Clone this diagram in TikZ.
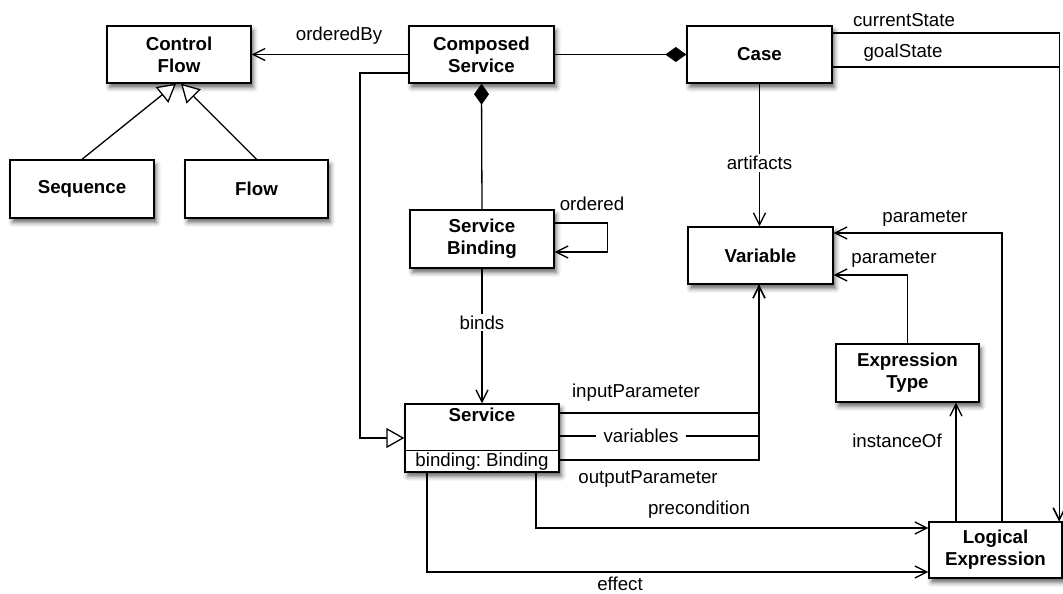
\documentclass[tikz,border=0pt]{standalone}
\usepackage{fontspec}
\setmainfont{Liberation Sans}
\usetikzlibrary{arrows.meta,shadows.blur,calc}
\frenchspacing
\begin{document}
\begin{tikzpicture}[x=1pt,y=-1pt,
  font=\fontsize{18.7}{22}\selectfont,
  cls/.style={draw, line width=1.4pt, fill=white, font=\fontsize{18.7}{22}\selectfont\bfseries, align=center, inner sep=0pt,
    blur shadow={shadow xshift=2.5pt, shadow yshift=-4.5pt, shadow blur radius=4.5pt, shadow opacity=60}},
  conn/.style={line width=1.3pt},
  openarr/.style={conn, -{Straight Barb[length=12pt,width=12pt]}},
  gen/.style={conn, -{Triangle[open,length=18pt,width=20pt,fill=white]}},
  compo/.style={conn, -{Diamond[length=21pt,width=15pt]}},
  lbl/.style={inner sep=1pt},
  lblw/.style={fill=white, inner sep=2pt}
]
\useasboundingbox (0,0) rectangle (1063,594);

% classes
\node[cls, minimum width=144pt, minimum height=57pt] (cf) at (179,54.5) {Control\\Flow};
\node[cls, minimum width=144pt, minimum height=58pt] (seq) at (82,189) {Sequence};
\node[cls, minimum width=143pt, minimum height=58pt] (flow) at (256.5,189) {Flow};
\node[cls, minimum width=145pt, minimum height=57pt] (cs) at (481.5,54.5) {Composed\\Service};
\node[cls, minimum width=145pt, minimum height=57pt] (case) at (759.5,54.5) {Case};
\node[cls, minimum width=144pt, minimum height=58pt] (sb) at (482,239) {Service\\Binding};
\node[cls, minimum width=145pt, minimum height=57pt] (var) at (760.5,255.5) {Variable};
\node[cls, minimum width=143pt, minimum height=58pt] (et) at (907.5,373) {Expression\\Type};
\node[cls, minimum width=133pt, minimum height=56pt] (le) at (995.5,550) {Logical\\Expression};
\node[cls, minimum width=154pt, minimum height=68pt] (svc) at (482,438) {};
\node[font=\fontsize{18.7}{22}\selectfont\bfseries, inner sep=0pt] (svct) at ([yshift=-12pt]svc.north) {Service};
\node[inner sep=0pt] (svcb) at ([yshift=11pt]svc.south) {binding: Binding};
\draw[line width=1.3pt] ([yshift=22pt]svc.south west) -- ([yshift=22pt]svc.south east);

% connectors
\draw[openarr] (cs.west) -- (cf.east);
\node[lbl] (lordered) at (339,36) {orderedBy};
\draw[gen] (seq.north) -- ([xshift=-3pt]cf.south);
\draw[gen] (flow.north) -- ([xshift=2pt]cf.south);
\draw[compo] (cs.east) -- (case.west);
\draw[compo] (sb.north) -- (cs.south);
\draw[gen] ([yshift=-18.5pt]cs.west) -- (360,73) |- (svc.west);

\draw[openarr] ([yshift=16pt]sb.east) -- ++(53,0) |- ([yshift=-13pt]sb.east);
\node[lbl] (lord) at (592,204) {ordered};

\draw[openarr] (sb.south) -- (svc.north) node[lblw, pos=0.40] (lbinds) {binds};
\draw[openarr] (case.south) -- (case.south |- var.north) node[lblw, pos=0.556] (lart) {artifacts};

\draw[openarr] ([yshift=25pt]svc.east) -| ([xshift=-1.5pt]var.south);
\node[lbl] (lin) at (636,393) {inputParameter};
\draw[conn] ([yshift=2pt]svc.east) -| ([xshift=-1.5pt]var.south);
\node[lblw, inner xsep=8pt] (lvar) at (641,436) {variables};
\draw[openarr] ([yshift=-22pt]svc.east) -| ([xshift=-1.5pt]var.south);
\node[lbl] (lout) at (648,479) {outputParameter};

\draw[openarr] ([xshift=54pt]svc.south) |- ([yshift=22pt]le.west);
\node[lbl] (lpre) at (699,510) {precondition};
\draw[openarr] ([xshift=-55pt]svc.south) |- ([yshift=-22pt]le.west);
\node[lbl] (leff) at (620,584) {effect};

\draw[openarr] ([yshift=21.5pt]case.east) -| ([xshift=-3.5pt]le.north east);
\node[lbl] (lcur) at (904,20) {currentState};
\draw[openarr] ([yshift=-12.5pt]case.east) -| ([xshift=-3.5pt]le.north east);
\node[lbl] (lgoal) at (903,53) {goalState};

\draw[openarr] ([xshift=6.5pt]le.north) |- ([yshift=22.5pt]var.east);
\node[lbl] (lpar1) at (925,218) {parameter};
\draw[openarr] (et.north) |- ([yshift=-19.5pt]var.east);
\node[lbl] (lpar2) at (894,259) {parameter};
\draw[openarr] ([xshift=-39.5pt]le.north) -- ([xshift=-39.5pt]le.north |- et.south);
\node[lbl] (linst) at (897,441) {instanceOf};
\end{tikzpicture}
\end{document}
